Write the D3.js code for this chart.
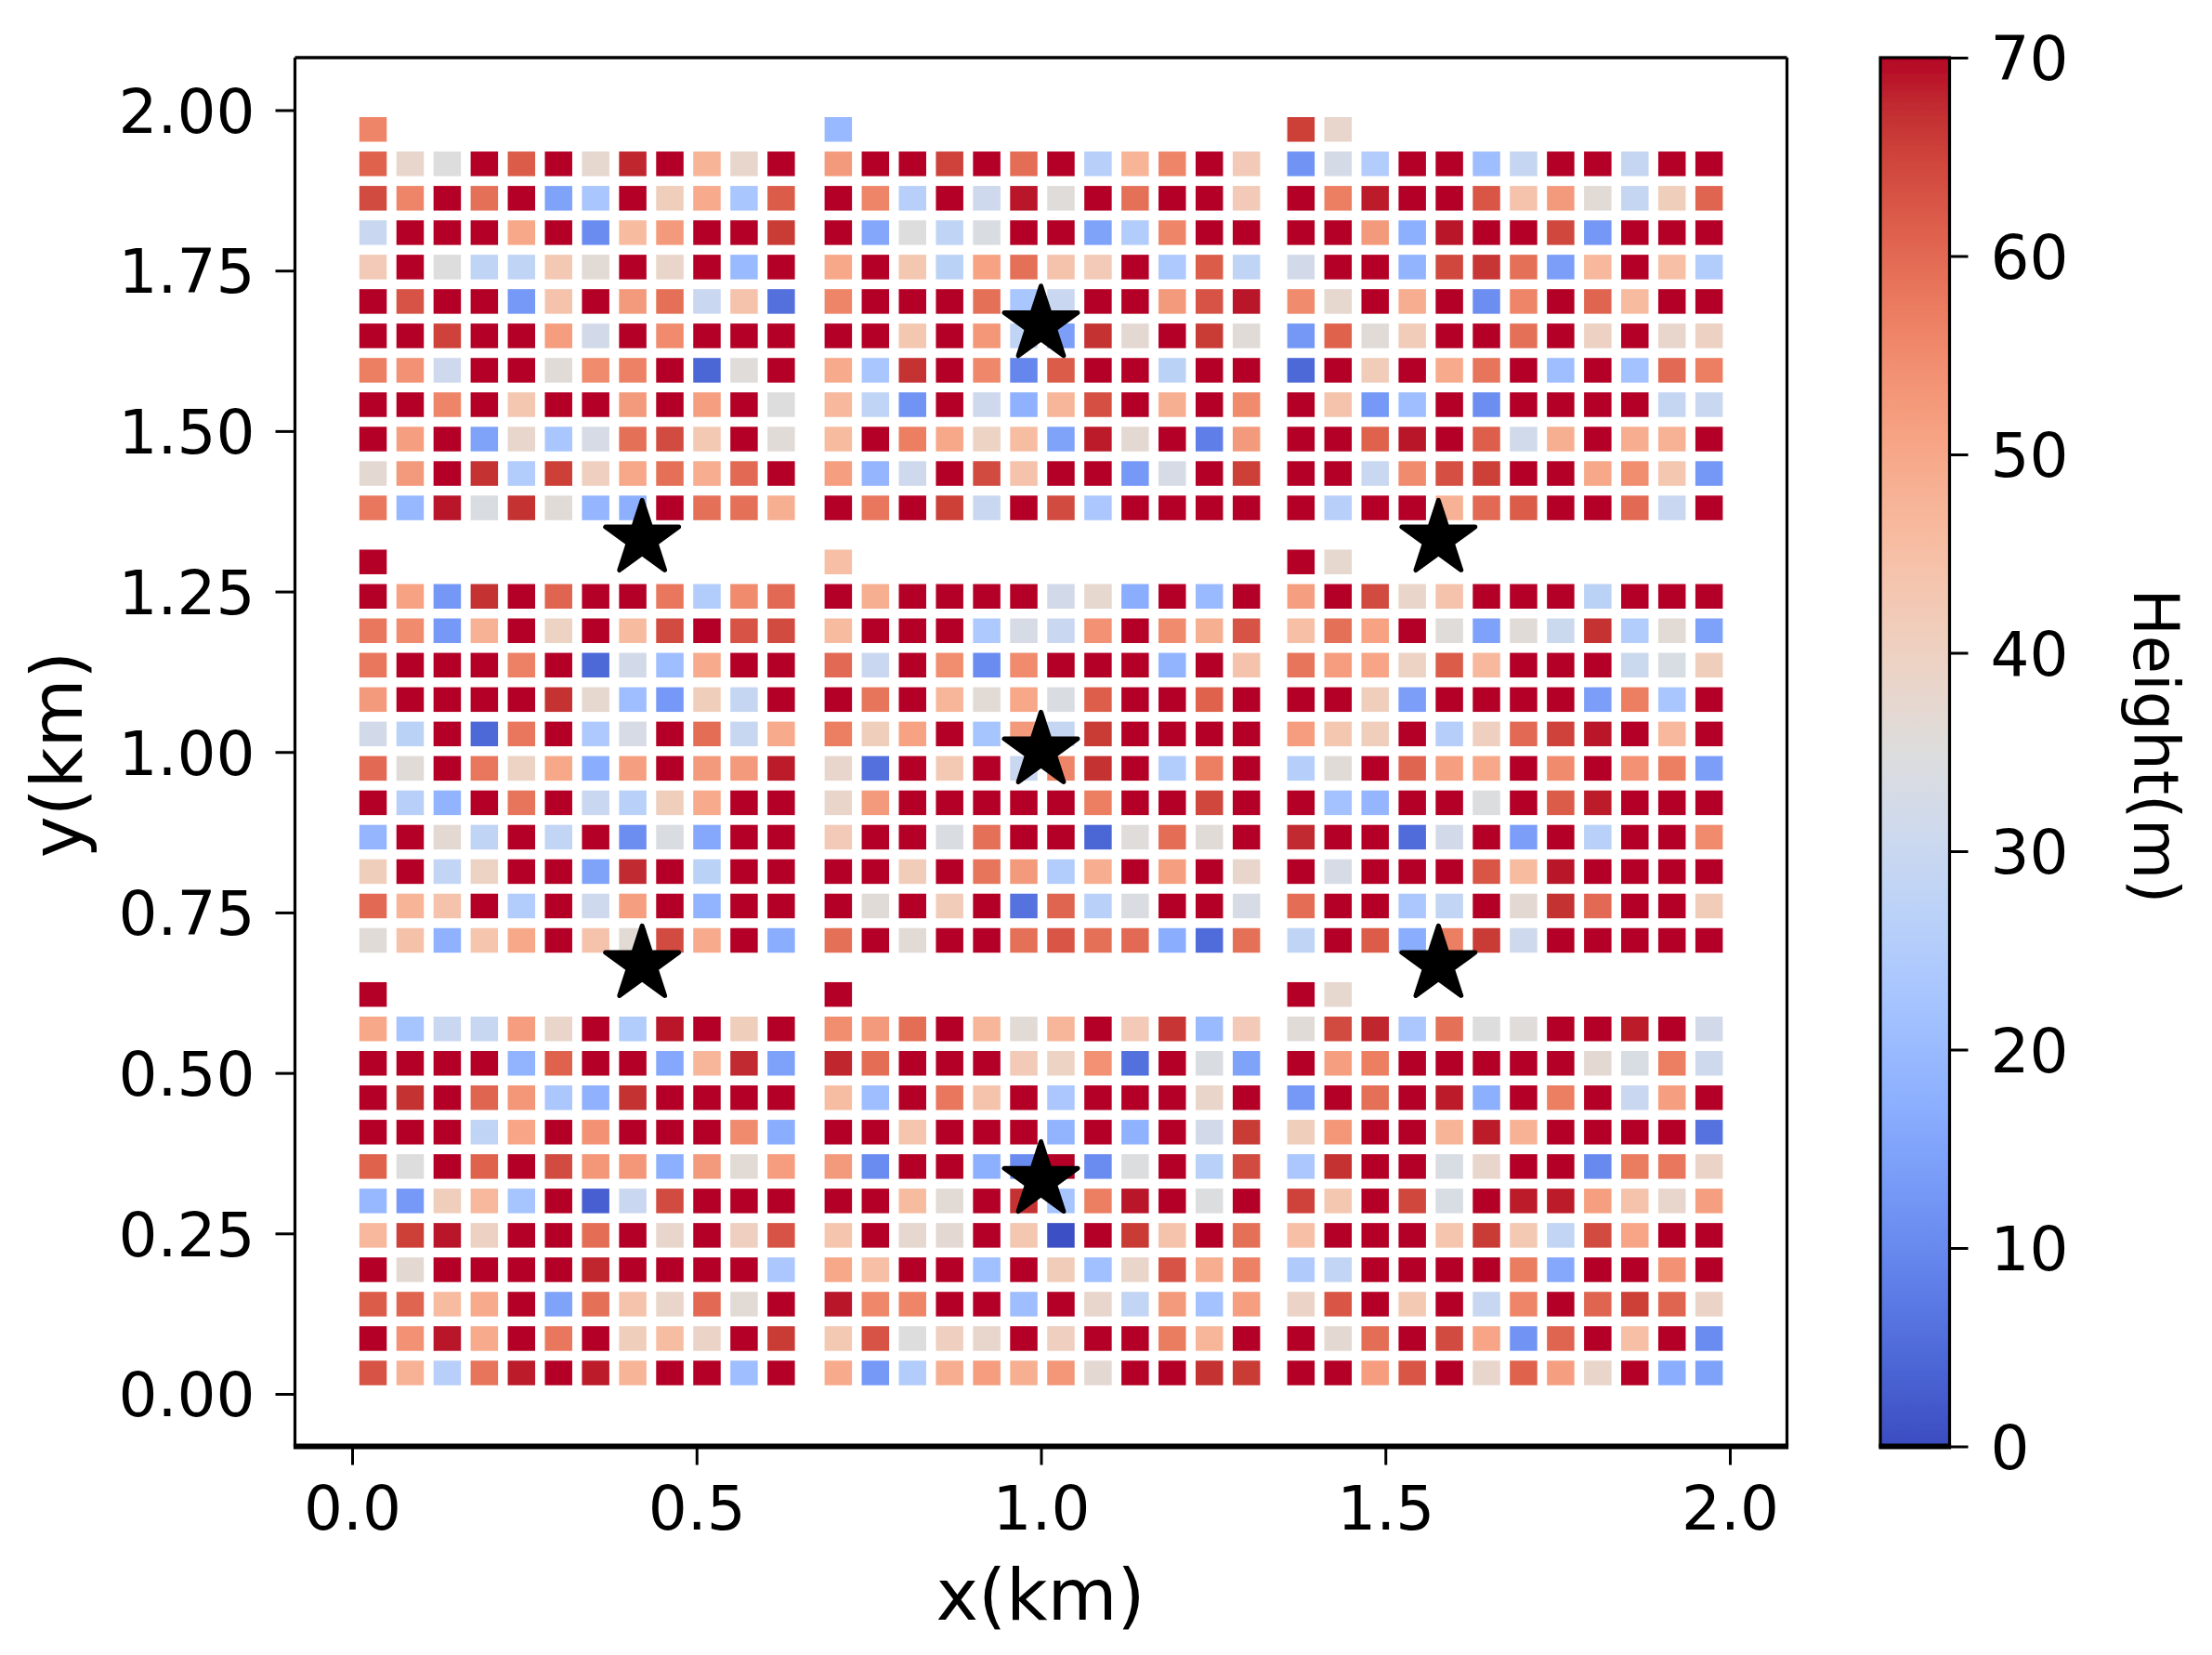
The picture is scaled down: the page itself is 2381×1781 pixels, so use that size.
<!DOCTYPE html>
<html>
<head>
<meta charset="utf-8">
<script src="https://cdn.jsdelivr.net/npm/d3@7"></script>
<style>
html,body{margin:0;padding:0;background:#fff}
svg{display:block}
text{font-family:"DejaVu Sans",sans-serif;fill:#000}
</style>
</head>
<body>
<svg id="c" width="2381" height="1781"></svg>
<script>
// Heights (m) per block, rows listed from top to bottom, columns left to right
const blockTL = [
[56],
[61,38,35,70,62,70,37.5,68,70,47.5,38,70],
[64,56,70,59,70,15,23,70,41,49.5,23,62],
[30,70,70,70,50,70,10.5,46,52.5,70,70,66],
[42,70,35,28,28,42.5,36.5,70,38.5,70,20,70],
[70,63,70,70,13,44,70,52.5,59,30,44,5.5],
[70,70,65,70,70,52,32,70,55,70,70,70],
[57,54,31,70,70,36,55,56.5,70,4,35.5,70],
[70,70,56,70,43,70,70,52.5,70,51.5,70,35],
[70,51.5,70,15,38,23,33,59,64,42.5,70,36],
[37,52.5,70,67,25,65.5,40.5,50,59,49,60,70],
[58,19.5,69,34,67,36,19,17.5,70,59,59,48.5]];
const blockTC = [
[19.7],
[52.5,70,70,65,70,59.5,70,26,47.5,56,70,42],
[70,56,26,70,31,69,35.5,70,59,70,70,42],
[70,15.8,35,28,34,70,70,15,25,56,70,70],
[50,70,43,27,51,59,44,42,70,24,62,28],
[56,70,70,70,59,23,30,70,70,52.5,63,69],
[70,70,43,70,53,28,14,67,37,70,66,36],
[49.5,23,67,70,55.5,9.5,62,70,70,27,70,70],
[46.5,28,12,70,31,18,47,63.5,70,48.5,70,55],
[46,70,57,50,39.5,45.5,15,68.5,37,70,8,52.5],
[51.5,19,31,70,64,44,70,70,13,33,70,65.5],
[70,58,70,65.5,30,70,64,23.5,70,70,70,70]];
const blockTR = [
[65.5,38],
[12,32.5,25,70,70,21,29,70,70,29,70,70],
[70,57,68.5,70,70,62.5,44,52.5,36.5,29,41,60.5],
[70,70,52.5,17.5,69,70,70,64.5,12.5,70,70,70],
[32,70,70,18.5,64.5,66.5,59,14,46.5,70,45,25],
[55,37.5,70,49,70,11,56,70,60.5,46,70,70],
[12.5,61,36,41.5,70,70,59,70,40,70,38,40],
[4.5,70,41.5,70,49.5,58.5,70,21,70,22,60,57],
[70,44,13,21,70,11,70,70,70,70,29,30],
[70,70,61,69,70,61.5,31.5,48.5,70,49,48,70],
[70,70,30,55,63.5,65.5,70,70,50,54.5,43,12.5],
[70,26,70,70,48,60,62,70,70,60,30,70]];
const blockML = [
[70],
[70,51,12.5,67,70,60.5,70,70,58,25,55,60],
[58,55,13,48,70,39.5,70,46,64,70,63,64],
[58,70,70,70,56.5,70,4.3,32,21,49.5,70,70],
[52.5,70,70,70,70,67,37.5,21,13,41,29,70],
[32,27,70,4.5,58,70,24,33,70,59.5,29.5,49.5],
[60,36,70,58,39.5,50,17,51.5,70,52.5,52.5,68.5],
[70,26,18.5,70,58.5,70,30,26.5,41,49.5,70,70],
[19,70,37,28,70,28.5,70,11,34,16,70,70],
[41,70,28.5,39.5,70,70,15,67.5,70,27,70,70],
[60,47.5,44,70,25,70,31,51.5,70,18.5,70,70],
[36,44.5,18,43.5,50,70,44,36.5,64,49.5,70,17]];
const blockMC = [
[45],
[70,48.5,70,70,70,70,32,37.5,17,70,20,70],
[46,70,70,70,24,33,30,54,70,55,48.5,63],
[60,30,70,54.5,10.5,55,70,70,70,18.5,70,44],
[70,58.5,70,47,36.5,50,34,61.5,70,70,61,70],
[57,41,51,70,22.5,52.5,29,66,70,70,70,70],
[38,5.5,70,42.5,70,30,56,67,70,25,57,70],
[38.5,52.5,70,70,70,70,70,57,70,70,64.5,70],
[42,70,70,34,59,70,70,4,35.5,59.5,36,70],
[70,70,41.5,70,58.5,52.5,25,49,70,51.5,70,38],
[70,36,70,41.5,70,6,60.5,26.5,34,70,70,33],
[59,70,36.5,70,70,59,62.5,59,60,17,5,59]];
const blockMR = [
[70,37.5],
[51.5,70,64,38.5,44,70,70,70,27,70,70,70],
[45,59,51,70,35.5,14.5,36,30.5,67,25,36.5,14.5],
[58.5,52,50.5,39.5,62,46.5,70,70,70,30.5,33.5,41],
[70,70,41,14,70,70,70,70,14,57,23,70],
[52,43,41,70,25.5,40.5,60,65,69,70,46.5,70],
[25.5,36,70,60.5,51.5,50,70,55,70,54,57,14],
[70,22,19,70,70,34.5,70,62,68.5,70,70,70],
[67.5,70,70,5,32,70,14,70,26.5,70,70,55],
[70,33,70,70,70,62.5,46,69,70,70,70,70],
[59.5,70,70,23.5,28.5,70,37,67,60,70,70,41.5],
[28,70,62,17,57,66,31,70,70,70,70,70]];
const blockBL = [
[70],
[50,22.5,30,29.5,52,38.5,70,25,69,70,41,70],
[70,70,70,70,18.5,61,70,70,16,47,67.5,14.5],
[70,67,70,60.5,53,23.5,18,67,70,70,70,70],
[70,70,70,28,50.5,70,54,70,70,70,55,17],
[61,35,70,61,70,64,53,53,17.5,52.5,36.5,52],
[19.5,13,41,46.5,22.5,70,3,30,64,70,70,70],
[46.5,65.5,69,40,70,70,59.5,70,38,70,40.5,63],
[70,37,70,70,70,70,68,70,70,70,70,23.5],
[62,60.5,46,49.5,70,15,59,44,38.5,60,36.5,70],
[70,54,69,49.5,70,58,70,41,45.5,39,70,66],
[63,48,26,58.5,68.5,70,68.5,47.5,70,70,21,70]];
const blockBC = [
[70],
[54.5,52.5,59.5,70,47,36.5,47,70,42,66.5,20,42],
[68,59.5,70,70,70,42,39.5,54,5.5,70,34,15],
[45.5,21,70,58,44,70,23.5,70,70,70,38.5,70],
[70,70,43.5,70,70,70,18.5,70,18,70,32,66],
[52.5,10.5,70,70,17.5,10.5,70,10.5,34.5,70,26.5,64],
[70,70,46,36.5,70,67,22.5,57,69,70,34.5,70],
[43.5,70,37.5,37,70,43,0.7,70,66,44,70,59],
[50,45,70,70,21.5,70,41.5,21.5,38.5,63,49,56.5],
[69,55.5,56,70,70,21,70,38,28.5,52.5,22,51.5],
[42.5,63,35,40.5,38,70,40.5,70,70,57.5,47,70],
[49.5,13,25,49,52,48.5,53,37,70,70,67,66]];
const blockBR = [
[70,37.5],
[36,64,68,23.5,59,35,35.5,70,70,68.5,70,32],
[70,51.5,57,70,70,70,70,70,37,33.5,57,31],
[13,70,59,70,68.5,17.5,70,57,70,30,51.5,70],
[41,53,70,70,47.5,68.5,48,70,70,70,70,6],
[23.5,67,70,70,33.5,38,70,70,10,57.5,58,39],
[65,43,70,64.5,33.5,70,68.5,68.5,51.5,44,38,51.5],
[45,70,70,70,43.5,66,42.5,28.5,64,50.5,70,70],
[24.5,28.5,70,70,70,70,57.5,16,70,70,54,70],
[39,62.5,70,42.5,70,29.5,56,70,60.5,65.5,60.5,39],
[70,37,59.5,70,64,50.5,12,60.5,70,45,70,10.5],
[70,70,52,62.5,70,38,61,51.5,38.5,70,17,14.5]];

const blocksGrid = [[blockTL,blockTC,blockTR],[blockML,blockMC,blockMR],[blockBL,blockBC,blockBR]];
const blockX0 = [0.0304,0.7058,1.3774];  // km, first column of each block
const blockY0 = [1.3803,0.7065,0.0326];  // km, lowest row of each block (top, middle, bottom)
const cellPitchX = 0.05386;              // km
const cellPitchY = 0.0536;               // km

const starX = [0.421,1.0,1.577,0.421,1.0,1.577,1.0];
const starY = [1.332,1.666,1.332,0.669,1.002,0.669,0.333];

const xTicks = [0,0.5,1,1.5,2];
const xTickLabels = ["0.0","0.5","1.0","1.5","2.0"];
const yTicks = [0,0.25,0.5,0.75,1,1.25,1.5,1.75,2];
const yTickLabels = ["0.00","0.25","0.50","0.75","1.00","1.25","1.50","1.75","2.00"];
const cbTicks = [0,10,20,30,40,50,60,70];
const xLabel = "x(km)", yLabel = "y(km)", cbLabel = "Height(m)";

// coolwarm colour map stops
const coolwarm = ["#3b4cc0","#445acc","#4d68d7","#5775e1","#6282ea","#6c8ef1","#779af7","#82a5fb","#8db0fe","#98b9ff","#a3c2ff","#aec9fd","#b8d0f9","#c2d5f4","#ccd9ee","#d5dbe6","#dddddd","#e5d8d1","#ecd3c5","#f1ccb9","#f5c4ad","#f7bba0","#f7b194","#f7a687","#f49a7b","#f18d6f","#ec7f63","#e57058","#de604d","#d55042","#cb3e38","#c0282f","#b40426"];

const W = 2381, H = 1781;
const box = {l:317.5, r:1923.5, t:62, b:1556.5};
const x = d3.scaleLinear().domain([0,2]).range([379,1862]);
const y = d3.scaleLinear().domain([0,2]).range([1500,118.5]);
const cb = d3.scaleLinear().domain([0,70]).range([1556.5,62]);
const color = d3.scaleLinear()
  .domain(coolwarm.map((_,i)=>70*i/(coolwarm.length-1)))
  .range(coolwarm).clamp(true);

const svg = d3.select("#c");
svg.append("rect").attr("width",W).attr("height",H).attr("fill","#fff");
svg.append("defs").append("filter").attr("id","soft")
  .attr("x",0).attr("y",0).attr("width",W).attr("height",H).attr("filterUnits","userSpaceOnUse")
  .append("feGaussianBlur").attr("stdDeviation",0.6);
const root = svg.append("g").attr("filter","url(#soft)");

// Cells
const cellW = 29.5, cellH = 26.5;
const cells = [];
blocksGrid.forEach((rowOfBlocks,bi)=>rowOfBlocks.forEach((block,bj)=>{
  block.forEach((row,ri)=>row.forEach((v,ci)=>{
    cells.push({x:blockX0[bj]+ci*cellPitchX, y:blockY0[bi]+(block.length-1-ri)*cellPitchY, v});
  }));
}));
root.append("g").selectAll("rect").data(cells).join("rect")
  .attr("x",d=>x(d.x)-cellW/2).attr("y",d=>y(d.y)-cellH/2)
  .attr("width",cellW).attr("height",cellH)
  .attr("fill",d=>color(d.v));

// Stars
const star = d3.symbol(d3.symbolStar).size(1933);
root.append("g").selectAll("path").data(starX.map((sx,i)=>({x:sx,y:starY[i]}))).join("path")
  .attr("d",star).attr("transform",d=>`translate(${x(d.x)},${y(d.y)})`)
  .attr("fill","#000").attr("stroke","#000").attr("stroke-width",5).attr("stroke-linejoin","round");

// Frame
const frame = root.append("g").attr("stroke","#000").attr("fill","none");
frame.append("line").attr("x1",box.l).attr("x2",box.l).attr("y1",box.t).attr("y2",box.b).attr("stroke-width",3.2);
frame.append("line").attr("x1",box.r).attr("x2",box.r).attr("y1",box.t).attr("y2",box.b).attr("stroke-width",3.2);
frame.append("line").attr("x1",box.l).attr("x2",box.r).attr("y1",box.t).attr("y2",box.t).attr("stroke-width",3.4);
frame.append("line").attr("x1",box.l-1.6).attr("x2",box.r+1.6).attr("y1",box.b).attr("y2",box.b).attr("stroke-width",6);

function styleAxis(g){
  g.select(".domain").remove();
  g.selectAll(".tick line").attr("stroke","#000").attr("stroke-width",3);
  g.selectAll(".tick text").style("font-size","66px").style("font-family",'"DejaVu Sans",sans-serif').attr("fill","#000");
}
root.append("g").attr("transform",`translate(0,${box.b})`)
  .call(d3.axisBottom(x).tickValues(xTicks).tickFormat((d,i)=>xTickLabels[i]).tickSize(20).tickPadding(23))
  .call(styleAxis);
root.append("g").attr("transform",`translate(${box.l},0)`)
  .call(d3.axisLeft(y).tickValues(yTicks).tickFormat((d,i)=>yTickLabels[i]).tickSize(21).tickPadding(22))
  .call(styleAxis).selectAll(".tick text").attr("dy","0.36em");

// Colour bar
const grad = svg.select("defs").append("linearGradient").attr("id","cbGrad").attr("x1",0).attr("x2",0).attr("y1",1).attr("y2",0);
grad.selectAll("stop").data(coolwarm).join("stop")
  .attr("offset",(d,i)=>i/(coolwarm.length-1)).attr("stop-color",d=>d);
const cbL = 2024, cbR = 2098.5;
root.append("rect").attr("x",cbL).attr("y",cb(70)).attr("width",cbR-cbL).attr("height",cb(0)-cb(70))
  .attr("fill","url(#cbGrad)").attr("stroke","#000").attr("stroke-width",3.2);
root.append("line").attr("x1",cbL-1.6).attr("x2",cbR+1.6).attr("y1",cb(0)).attr("y2",cb(0)).attr("stroke","#000").attr("stroke-width",6);
root.append("g").attr("transform",`translate(${cbR},0)`)
  .call(d3.axisRight(cb).tickValues(cbTicks).tickSize(20).tickPadding(24))
  .call(styleAxis).selectAll(".tick text").attr("dy","0.36em");

// Axis titles
const lab = (t,tx,ty,rot,fs)=>root.append("text").text(t)
  .attr("transform",`translate(${tx},${ty}) rotate(${rot})`)
  .attr("text-anchor","middle").style("font-size",fs+"px");
lab(xLabel,1120,1743,0,77);
lab(yLabel,88,812,-90,76);
lab(cbLabel,2297,803,90,67);
</script>
</body>
</html>
